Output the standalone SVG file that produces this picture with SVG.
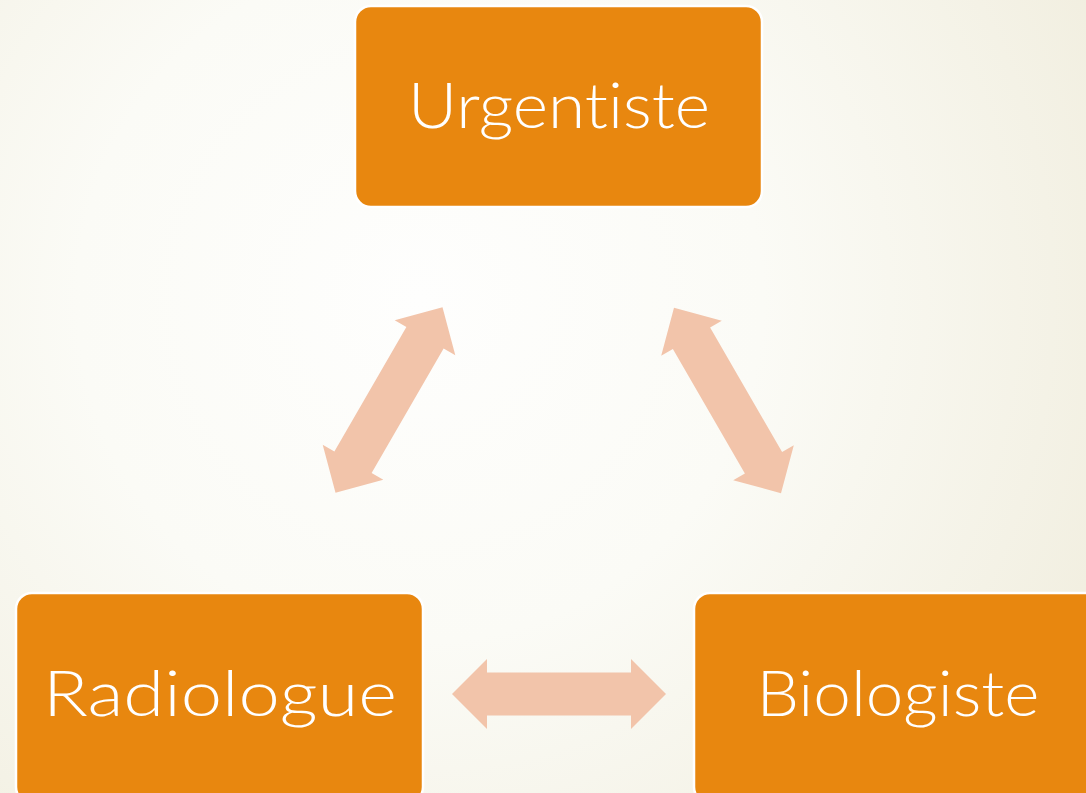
<svg xmlns="http://www.w3.org/2000/svg" width="1086" height="793" viewBox="0 0 1086 793">
  <defs>
    <radialGradient id="bg" gradientUnits="userSpaceOnUse" cx="420" cy="300" r="760">
      <stop offset="0" stop-color="#fefefd"/>
      <stop offset="0.45" stop-color="#fbfbf6"/>
      <stop offset="1" stop-color="#f1eedf"/>
    </radialGradient>
    <polygon id="dbl" points="-107,0 -72,-35 -72,-21.5 72,-21.5 72,-35 107,0 72,35 72,21.5 -72,21.5 -72,35"/>
  </defs>
  <style>
    .box { fill: #e8870f; stroke: #ffffff; stroke-width: 2.5; }
    .lbl { fill: #ffffff; font-family: "Lato", "Noto Sans", sans-serif; font-weight: 300; font-size: 64px; text-anchor: middle; font-variant-ligatures: none; }
    .arr { fill: #f2c4aa; }
  </style>
  <rect x="0" y="0" width="1086" height="793" fill="url(#bg)"/>
  <g id="connectors">
    <use href="#dbl" class="arr" transform="translate(389,400) rotate(-60)"/>
    <use href="#dbl" class="arr" transform="translate(727.5,400.5) rotate(60)"/>
    <use href="#dbl" class="arr" transform="translate(559,694)"/>
  </g>
  <g id="urgentiste">
    <rect class="box" x="355" y="6" width="407" height="201" rx="16"/>
    <text class="lbl" x="559" y="128" textLength="302" lengthAdjust="spacingAndGlyphs">Urgentiste</text>
  </g>
  <g id="radiologue">
    <rect class="box" x="16" y="593" width="407" height="210" rx="16"/>
    <text class="lbl" x="220" y="716" textLength="354" lengthAdjust="spacingAndGlyphs">Radiologue</text>
  </g>
  <g id="biologiste">
    <rect class="box" x="694" y="593" width="407" height="210" rx="16"/>
    <text class="lbl" x="898" y="716" textLength="283" lengthAdjust="spacingAndGlyphs">Biologiste</text>
  </g>
</svg>
